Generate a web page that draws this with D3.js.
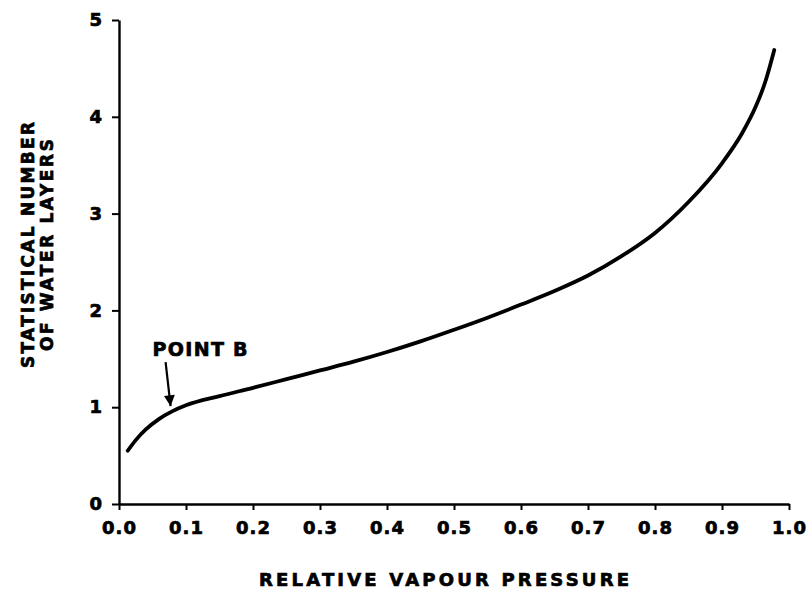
<!DOCTYPE html>
<html>
<head>
<meta charset="utf-8">
<script src="https://cdn.jsdelivr.net/npm/d3@7"></script>
<style>
    body { margin: 0; background: #fff; }
    svg text { font-family: 'DejaVu Sans', 'Liberation Sans', Arial, sans-serif; font-weight: bold; fill: #000; stroke: #000; stroke-width: 0.7px; }
</style>
</head>
<body>
<div id="chart"></div>
<script>
// values
const pressure = [0.013, 0.025, 0.04, 0.06, 0.08, 0.1, 0.15, 0.2, 0.25, 0.3, 0.35, 0.4, 0.45, 0.5,
    0.55, 0.6, 0.65, 0.7, 0.75, 0.8, 0.85, 0.9, 0.93, 0.95, 0.965, 0.978];
const layers = [0.55, 0.66, 0.77, 0.88, 0.96, 1.02, 1.115, 1.2, 1.29, 1.38, 1.47, 1.57, 1.68, 1.8,
    1.925, 2.06, 2.2, 2.36, 2.56, 2.8, 3.12, 3.52, 3.83, 4.1, 4.37, 4.69];
const xTicks = [0, 0.1, 0.2, 0.3, 0.4, 0.5, 0.6, 0.7, 0.8, 0.9, 1.0];
const yTicks = [0, 1, 2, 3, 4, 5];
const pointB = { x: 0.077, y: 1.0, label: 'POINT B' };

const width = 807, height = 590;
const x0 = 119, x1 = 789, y0 = 504, y1 = 20;

const svg = d3.select('#chart').append('svg')
    .attr('width', width)
    .attr('height', height);

const x = d3.scaleLinear().domain([0, 1]).range([x0, x1]);
const y = d3.scaleLinear().domain([0, 5]).range([y0, y1]);

// x axis
const xAxis = svg.append('g')
    .attr('transform', `translate(0,${y0})`)
    .call(d3.axisBottom(x).tickValues(xTicks).tickFormat(d3.format('.1f')).tickSize(6).tickSizeOuter(0).tickPadding(11));
xAxis.select('.domain').attr('stroke-width', 2.4);
xAxis.selectAll('.tick line').attr('stroke-width', 2);
xAxis.selectAll('text').attr('font-size', 18).style('letter-spacing', '1px');

// y axis
const yAxis = svg.append('g')
    .attr('transform', `translate(${x0},0)`)
    .call(d3.axisLeft(y).tickValues(yTicks).tickFormat(d3.format('d')).tickSize(7).tickSizeOuter(0).tickPadding(10));
yAxis.select('.domain').attr('stroke-width', 2.4);
yAxis.selectAll('.tick line').attr('stroke-width', 2);
yAxis.selectAll('text').attr('font-size', 18);

// curve
const pts = pressure.map((p, i) => [p, layers[i]]);
const line = d3.line()
    .x(d => x(d[0]))
    .y(d => y(d[1]))
    .curve(d3.curveMonotoneX);

svg.append('path')
    .datum(pts)
    .attr('d', line)
    .attr('fill', 'none')
    .attr('stroke', '#000')
    .attr('stroke-width', 3.8)
    .attr('stroke-linecap', 'round');

// point B annotation
svg.append('defs').append('marker')
    .attr('id', 'head')
    .attr('viewBox', '0 0 10 10')
    .attr('refX', 10).attr('refY', 5)
    .attr('markerWidth', 6.5).attr('markerHeight', 5)
    .attr('markerUnits', 'strokeWidth')
    .attr('orient', 'auto')
    .append('path')
    .attr('d', 'M0,0 L10,5 L0,10 Z')
    .attr('fill', '#000');

const bx = x(pointB.x), by = y(pointB.y);
svg.append('line')
    .attr('x1', bx - 5).attr('y1', by - 45)
    .attr('x2', bx).attr('y2', by - 1)
    .attr('stroke', '#000')
    .attr('stroke-width', 2.2)
    .attr('marker-end', 'url(#head)');

svg.append('text')
    .attr('x', bx - 18).attr('y', by - 51)
    .attr('font-size', 19)
    .attr('textLength', 95)
    .attr('lengthAdjust', 'spacing')
    .text(pointB.label);

// axis titles
svg.append('text')
    .attr('x', 444).attr('y', 586)
    .attr('text-anchor', 'middle')
    .attr('font-size', 18)
    .attr('textLength', 370)
    .attr('lengthAdjust', 'spacing')
    .text('RELATIVE VAPOUR PRESSURE');

const yt = svg.append('text')
    .attr('transform', 'translate(0,245) rotate(-90)')
    .attr('text-anchor', 'middle')
    .attr('font-size', 17);
yt.append('tspan').attr('x', 0).attr('y', 34)
    .attr('textLength', 246).attr('lengthAdjust', 'spacing')
    .text('STATISTICAL NUMBER');
yt.append('tspan').attr('x', 0).attr('y', 53)
    .attr('textLength', 212).attr('lengthAdjust', 'spacing')
    .text('OF WATER LAYERS');
</script>
</body>
</html>
